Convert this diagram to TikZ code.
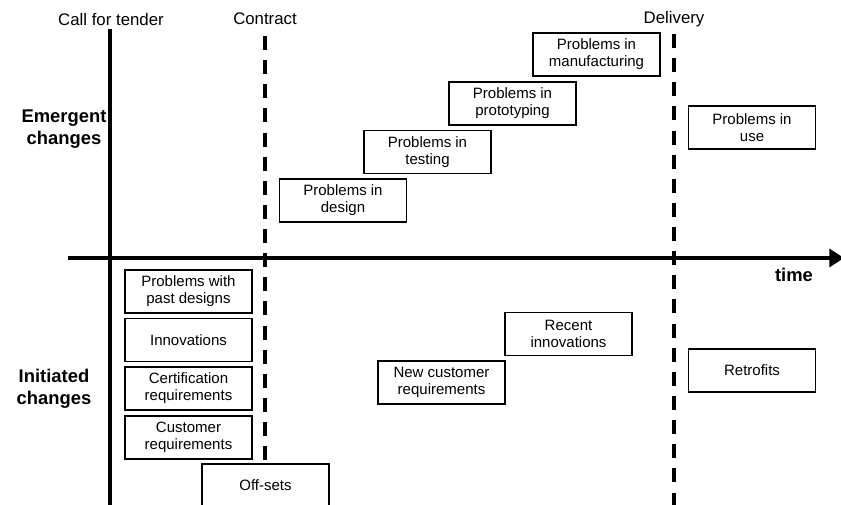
\documentclass[tikz,border=0pt]{standalone}
\usepackage{fontspec}
\setmainfont{Liberation Sans}
\usetikzlibrary{arrows.meta}
\begin{document}
\begin{tikzpicture}[x=0.75pt,y=-0.75pt,
  change/.style={draw=black,line width=1.1pt,rectangle,minimum width=95.25pt,
    minimum height=32.25pt,inner sep=0pt,align=center,
    font=\fontsize{11.25}{12.75}\selectfont},
  milestone/.style={font=\fontsize{12.6}{14}\selectfont,inner sep=0pt},
  category/.style={font=\fontsize{13.8}{16.5}\selectfont\bfseries,align=center,inner sep=0pt},
  boundary/.style={line width=2.4pt,dash pattern=on 10.5pt off 7.6pt},
  axisline/.style={line width=2.3pt}]
\useasboundingbox (0,0) rectangle (841,504);
\clip (0,0) rectangle (841,504);

% milestone lines
\coordinate (tenderTop) at (110,29);
\coordinate (tenderBot) at (110,506);
\coordinate (contractTop) at (265,36);
\coordinate (contractBot) at (265,460);
\coordinate (deliveryTop) at (674,34);
\coordinate (deliveryBot) at (674,506);
\coordinate (axisStart) at (68,258);
\coordinate (axisEnd) at (844,258);

\draw[axisline] (tenderTop) -- (tenderBot);
\draw[boundary] (contractTop) -- (contractBot);
\draw[boundary] (deliveryTop) -- (deliveryBot);
\draw[axisline,-{Triangle[length=11pt,width=13.5pt]}] (axisStart) -- (axisEnd);

% milestone labels
\node[milestone] (tender) at (111,19) {Call for tender};
\node[milestone] (contract) at (265,19) {Contract};
\node[milestone] (delivery) at (674,19) {Delivery};
\node[category] (emergent) at (64,129) {Emergent\\changes};
\node[category] (initiated) at (54,389) {Initiated\\changes};
\node[category] (time) at (794,275) {time};

% emergent changes
\node[change] (design) at (343,200.5) {Problems in\\design};
\node[change] (testing) at (427.5,152) {Problems in\\testing};
\node[change] (proto) at (512.5,103.5) {Problems in\\prototyping};
\node[change] (manuf) at (596.5,54.5) {Problems in\\manufacturing};
\node[change] (use) at (752,127.5) {Problems in\\use};

% initiated changes
\node[change] (past) at (188.5,291.5) {Problems with\\past designs};
\node[change] (innov) at (188.5,340) {Innovations};
\node[change] (cert) at (188.5,388.5) {Certification\\requirements};
\node[change] (cust) at (188.5,437.5) {Customer\\requirements};
\node[change] (offsets) at (265.5,485.5) {Off-sets};
\node[change] (newcust) at (441.5,382.5) {New customer\\requirements};
\node[change] (recent) at (568.5,334) {Recent\\innovations};
\node[change] (retro) at (752,370.5) {Retrofits};
\end{tikzpicture}
\end{document}
